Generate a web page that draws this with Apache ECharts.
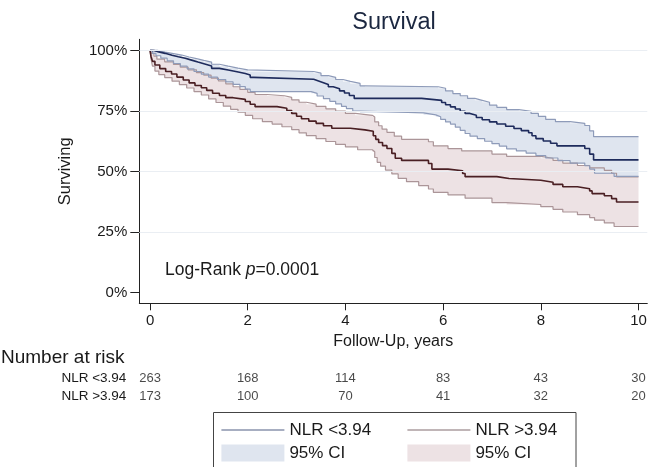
<!DOCTYPE html>
<html><head><meta charset="utf-8">
<script src="https://cdn.jsdelivr.net/npm/echarts@6/dist/echarts.min.js"></script>
<style>html,body{margin:0;padding:0;background:#fff}#c{width:650px;height:467px}</style>
</head><body><div id="c"></div>
<script>
const xTicks = [0, 2, 4, 6, 8, 10];
const yTicks = [0, 25, 50, 75, 100];
const groups = ['NLR <3.94', 'NLR >3.94'];
const riskTimes = [0, 2, 4, 6, 8, 10];
const riskLow = [263, 168, 114, 83, 43, 30];
const riskHigh = [173, 100, 70, 41, 32, 20];

// Kaplan-Meier estimate, NLR <3.94 (time in years, survival %)
const kmLow = [[0,100],[0.08,99.4],[0.18,98.8],[0.31,98.0],[0.45,97.4],[0.58,96.8],[0.72,96.0],[0.85,95.2],[0.98,94.4],[1.12,93.6],[1.26,92.6],[1.42,91.9],[1.6,91.2],[1.78,90.5],[1.95,89.9],[2.05,88.9],[2.12,88.1],[3.35,87.4],[3.45,86.7],[3.55,85.9],[3.65,85.0],[3.75,84.2],[3.88,83.3],[3.98,82.4],[4.08,81.4],[4.18,80.2],[5.56,79.4],[5.97,78.5],[6.05,77.6],[6.15,76.7],[6.25,75.8],[6.35,74.9],[6.45,74.0],[6.55,73.2],[6.68,72.3],[6.8,71.4],[6.95,70.5],[7.1,69.6],[7.28,68.7],[7.45,67.8],[7.6,66.9],[7.75,66.0],[7.82,64.8],[7.9,63.6],[8.05,62.6],[8.2,61.7],[8.33,60.6],[8.9,59.5],[9.0,57.2],[9.08,54.8],[10,54.8]];
const ciLowUpper = [[0,100],[0.15,99.3],[0.31,98.7],[0.48,98.1],[0.65,97.3],[0.8,96.6],[0.95,95.9],[1.1,95.2],[1.26,94.3],[1.42,93.5],[1.6,92.7],[1.8,92.0],[2.0,91.3],[3.35,90.6],[3.5,89.6],[3.65,88.9],[3.8,88.0],[3.95,87.2],[4.1,86.4],[4.3,85.4],[4.4,85.0],[5.9,84.4],[6.05,83.3],[6.2,82.2],[6.35,81.3],[6.5,80.2],[6.65,79.4],[6.8,78.6],[6.95,77.4],[7.1,76.5],[7.3,75.6],[7.55,74.9],[7.8,74.0],[7.95,72.8],[8.1,71.5],[8.3,70.6],[8.6,69.9],[8.9,69.0],[9.0,66.8],[9.08,64.4],[10,64.4]];
const ciLowLower = [[0,100],[0.05,98.8],[0.12,97.8],[0.22,96.8],[0.35,95.7],[0.48,94.6],[0.62,93.5],[0.76,92.4],[0.9,91.3],[1.05,90.2],[1.2,89.0],[1.38,88.0],[1.55,87.0],[1.7,86.0],[1.84,85.1],[1.95,84.0],[2.05,83.0],[3.3,82.3],[3.42,81.2],[3.55,80.1],[3.68,79.0],[3.8,77.9],[3.92,76.9],[4.02,76.0],[4.15,75.0],[4.3,74.2],[5.6,73.4],[5.85,72.6],[5.95,71.5],[6.05,70.5],[6.15,69.6],[6.25,68.3],[6.35,67.0],[6.45,65.7],[6.55,64.6],[6.7,63.6],[6.85,62.5],[7.0,61.5],[7.15,60.5],[7.3,59.4],[7.5,58.5],[7.7,57.6],[7.9,56.6],[8.1,55.6],[8.35,54.5],[8.6,53.5],[8.9,52.4],[9.0,51.0],[9.1,49.3],[9.5,48.0],[10,48.0]];

// Kaplan-Meier estimate, NLR >3.94
const kmHigh = [[0,100],[0.02,97.5],[0.05,95.5],[0.1,94.0],[0.2,92.5],[0.32,91.3],[0.44,90.3],[0.55,89.0],[0.68,87.8],[0.8,86.6],[0.92,85.5],[1.05,84.6],[1.16,83.5],[1.28,82.3],[1.42,81.4],[1.55,80.5],[1.7,79.8],[1.95,78.9],[2.05,77.8],[2.15,76.8],[2.6,76.1],[2.8,75.2],[2.9,74.0],[3.0,72.8],[3.1,71.8],[3.25,70.8],[3.4,69.9],[3.55,68.9],[3.72,67.9],[4.1,67.2],[4.4,66.6],[4.57,64.8],[4.62,63.3],[4.68,62.0],[4.76,60.7],[4.85,59.5],[4.95,57.5],[5.02,55.5],[5.15,54.6],[5.7,53.3],[5.77,51.0],[6.1,50.3],[6.4,49.2],[6.45,47.9],[7.1,47.1],[7.35,46.4],[8.0,45.6],[8.25,44.7],[8.45,43.7],[8.75,42.9],[9.0,42.0],[9.05,40.9],[9.3,40.0],[9.45,38.8],[9.55,37.4],[10,37.4]];
const ciHighUpper = [[0,100],[0.03,98.8],[0.08,97.6],[0.14,96.4],[0.3,95.3],[0.48,94.2],[0.62,93.1],[0.78,92.0],[0.95,90.8],[1.1,89.8],[1.25,88.6],[1.4,87.4],[1.55,86.2],[1.7,85.0],[1.84,83.9],[2.0,82.7],[2.15,81.8],[2.4,81.3],[2.75,80.6],[2.9,79.6],[3.05,78.6],[3.2,77.8],[3.4,76.9],[3.6,75.9],[3.8,75.0],[4.0,74.0],[4.2,73.2],[4.55,72.5],[4.6,70.5],[4.68,68.9],[4.75,67.5],[4.85,66.2],[5.0,64.6],[5.15,63.3],[5.7,62.3],[5.8,60.6],[6.1,59.5],[6.38,58.5],[7.0,57.2],[7.3,56.3],[8.0,55.5],[8.25,54.6],[8.45,53.5],[8.75,52.5],[9.0,51.5],[9.3,50.5],[9.45,49.3],[9.55,47.8],[10,47.8]];
const ciHighLower = [[0,100],[0.02,96.5],[0.05,93.5],[0.1,91.5],[0.18,90.0],[0.3,88.8],[0.45,87.3],[0.6,85.9],[0.75,84.5],[0.9,83.0],[1.05,81.6],[1.2,80.0],[1.35,78.5],[1.5,77.0],[1.65,75.7],[1.8,74.5],[1.95,73.2],[2.1,71.8],[2.3,70.6],[2.5,69.6],[2.7,68.5],[2.9,67.3],[3.05,66.0],[3.2,64.8],[3.4,63.6],[3.6,62.4],[3.8,61.2],[4.0,60.2],[4.25,59.0],[4.55,58.2],[4.6,55.8],[4.65,53.8],[4.72,52.2],[4.82,50.6],[4.95,49.0],[5.08,47.2],[5.25,45.8],[5.5,44.2],[5.7,42.8],[5.8,41.4],[6.1,40.4],[6.45,39.0],[7.0,37.2],[7.3,36.4],[8.0,35.5],[8.25,34.4],[8.45,33.3],[8.75,32.2],[9.0,31.0],[9.1,29.9],[9.3,28.8],[9.5,27.3],[10,27.3]];

const FONT = "'Liberation Sans', Arial, Helvetica, sans-serif";
const C = {
  lowLine: '#1e2b5c', highLine: '#4a1f23',
  lowBound: '#8e9bb9', highBound: '#ab9598',
  lowFill: '#dfe5ef', highFill: '#ede2e4',
  lowLeg: '#8a93ad', highLeg: '#ab9d9f'
};

function stepPath(pts) {
  const out = [];
  for (let i = 0; i < pts.length; i++) {
    if (i > 0) out.push([pts[i][0], pts[i - 1][1]]);
    out.push(pts[i]);
  }
  return out;
}
function bandSeries(name, upper, lower, color, z) {
  const poly = stepPath(upper).concat(stepPath(lower).reverse());
  return {
    type: 'custom', name, data: [[0, 0]], z, silent: true,
    itemStyle: { color },
    renderItem: (params, api) => ({
      type: 'polygon',
      shape: { points: poly.map(p => api.coord(p)) },
      style: { fill: color }
    })
  };
}
function stepLine(name, data, color, width, z) {
  return {
    type: 'line', name, data, step: 'end', symbol: 'none', showSymbol: false,
    lineStyle: { color, width }, itemStyle: { color }, z, silent: true
  };
}

const riskData = [];
riskTimes.forEach((t, i) => {
  riskData.push([t, groups[0], riskLow[i]]);
  riskData.push([t, groups[1], riskHigh[i]]);
});

const chart = echarts.init(document.getElementById('c'), null, { renderer: 'canvas' });
const legendText = { fontSize: 17, fontFamily: FONT, color: '#1a1a1a' };
const legendFmt = n => (n.indexOf('CI') === 0 ? '95% CI' : n);

chart.setOption({
  animation: false,
  backgroundColor: '#fff',
  title: {
    text: 'Survival', left: 389, top: 6, textAlign: 'center',
    textStyle: { fontSize: 23.5, fontWeight: 'normal', fontFamily: FONT, color: '#1b2740' }
  },
  grid: [
    { left: 139.3, right: 2.7, top: 39.3, bottom: 163.7 },
    { left: 139.3, right: 2.7, top: 369, height: 36 }
  ],
  xAxis: [
    {
      type: 'value', min: -0.22, max: 10.18,
      name: 'Follow-Up, years', nameLocation: 'middle', nameGap: 29,
      nameTextStyle: { fontSize: 16, fontFamily: FONT, color: '#1a1a1a' },
      axisLine: { show: true, onZero: false, lineStyle: { color: '#222', width: 1 } },
      axisTick: { show: true, length: 7, customValues: xTicks, lineStyle: { color: '#222' } },
      axisLabel: { customValues: xTicks, margin: 10, fontSize: 15, fontFamily: FONT, color: '#1a1a1a' },
      splitLine: { show: false }
    },
    { type: 'value', gridIndex: 1, min: -0.22, max: 10.18, show: false }
  ],
  yAxis: [
    {
      type: 'value', min: -4.4, max: 104.6,
      name: 'Surviving', nameLocation: 'middle', nameGap: 65, nameRotate: 90,
      nameTextStyle: { fontSize: 16.5, fontFamily: FONT, color: '#1a1a1a' },
      axisLine: { show: true, onZero: false, lineStyle: { color: '#222', width: 1 } },
      axisTick: { show: true, length: 9, customValues: yTicks, lineStyle: { color: '#222' } },
      axisLabel: { customValues: yTicks, margin: 12, fontSize: 15, fontFamily: FONT, color: '#1a1a1a',
        formatter: v => v + '%' },
      splitLine: { show: false }
    },
    {
      type: 'category', gridIndex: 1, data: groups, inverse: true,
      axisLine: { show: false }, axisTick: { show: false }, splitLine: { show: false },
      axisLabel: { interval: 0, margin: 13, fontSize: 13.5, fontFamily: FONT, color: '#1a1a1a' }
    }
  ],
  legend: [
    {
      left: 220.7, top: 421.5, orient: 'vertical', padding: 0, itemGap: 6,
      itemWidth: 63, itemHeight: 17, selectedMode: false, formatter: legendFmt,
      textStyle: legendText,
      data: [
        { name: 'NLR <3.94', lineStyle: { color: C.lowLeg, width: 1.4 }, itemStyle: { opacity: 0 } },
        { name: 'CI <3.94', icon: 'rect', itemStyle: { color: C.lowFill } }
      ]
    },
    {
      left: 406.7, top: 421.5, orient: 'vertical', padding: 0, itemGap: 6,
      itemWidth: 63, itemHeight: 17, selectedMode: false, formatter: legendFmt,
      textStyle: legendText,
      data: [
        { name: 'NLR >3.94', lineStyle: { color: C.highLeg, width: 1.4 }, itemStyle: { opacity: 0 } },
        { name: 'CI >3.94', icon: 'rect', itemStyle: { color: C.highFill } }
      ]
    }
  ],
  graphic: [
    {
      type: 'text', x: 165, y: 270,
      style: {
        text: '{a|Log-Rank }{i|p}{a|=0.0001}',
        textVerticalAlign: 'middle', textAlign: 'left',
        rich: {
          a: { fontSize: 17.5, fontFamily: FONT, fill: '#1a1a1a' },
          i: { fontSize: 17.5, fontFamily: FONT, fontStyle: 'italic', fill: '#1a1a1a' }
        }
      }
    },
    {
      type: 'text', x: 1, y: 358,
      style: { text: 'Number at risk', fontSize: 19, fontFamily: FONT, fill: '#1a1a1a',
        textVerticalAlign: 'middle', textAlign: 'left' }
    },
    {
      type: 'rect', z: -1,
      shape: { x: 213.5, y: 412.5, width: 362.5, height: 80 },
      style: { fill: 'none', stroke: '#444', lineWidth: 1 }
    }
  ],
  series: [
    {
      type: 'line', name: 'grid', data: [], z: 0, silent: true,
      markLine: {
        silent: true, symbol: ['none', 'none'], animation: false,
        label: { show: false },
        lineStyle: { color: '#eaeef3', width: 1, type: 'solid' },
        data: yTicks.filter(v => v > 0).map(v => ({ yAxis: v }))
      }
    },
    bandSeries('CI >3.94', ciHighUpper, ciHighLower, C.highFill, 1),
    bandSeries('CI <3.94', ciLowUpper, ciLowLower, C.lowFill, 2),
    stepLine('hiU', ciHighUpper, C.highBound, 1.2, 3),
    stepLine('hiL', ciHighLower, C.highBound, 1.2, 3),
    stepLine('loU', ciLowUpper, C.lowBound, 1.2, 3),
    stepLine('loL', ciLowLower, C.lowBound, 1.2, 3),
    stepLine('NLR >3.94', kmHigh, C.highLine, 1.6, 4),
    stepLine('NLR <3.94', kmLow, C.lowLine, 1.6, 4),
    {
      type: 'scatter', xAxisIndex: 1, yAxisIndex: 1, data: riskData,
      symbolSize: 1, itemStyle: { color: 'rgba(0,0,0,0)' }, silent: true,
      label: { show: true, position: 'inside', formatter: p => p.value[2],
        fontSize: 13, fontFamily: FONT, color: '#1a1a1a' }
    }
  ]
});
</script>
</body></html>
